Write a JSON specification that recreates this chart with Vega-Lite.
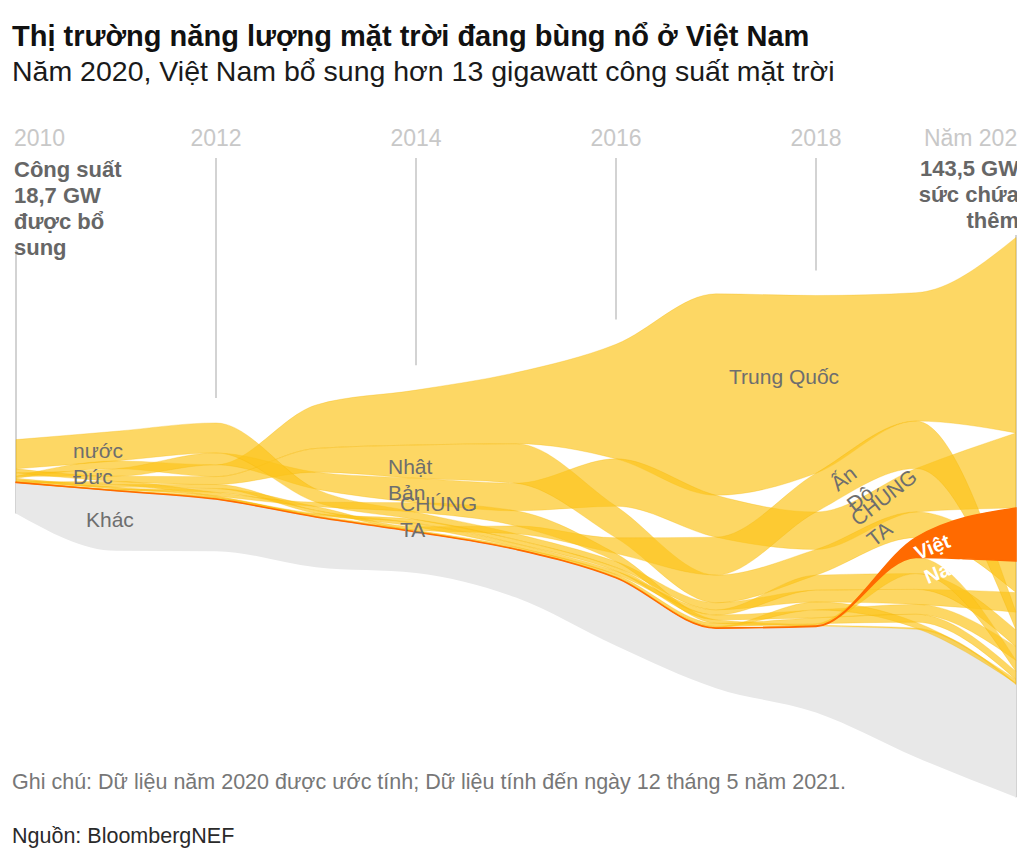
{
  "$schema": "https://vega.github.io/schema/vega-lite/v6.json",
  "width": 1000,
  "height": 765,
  "autosize": {"type": "none"},
  "padding": {"left": 16, "right": 1, "top": 100, "bottom": 0},
  "background": "white",
  "config": {"view": {"stroke": null}, "font": "Liberation Sans"},
  "title": {
    "text": "Thị trường năng lượng mặt trời đang bùng nổ ở Việt Nam",
    "subtitle": "Năm 2020, Việt Nam bổ sung hơn 13 gigawatt công suất mặt trời",
    "anchor": "start",
    "frame": "group",
    "dx": -4,
    "font": "'Liberation Sans', sans-serif",
    "fontSize": 29,
    "fontWeight": "bold",
    "color": "#111111",
    "subtitleFont": "'Liberation Sans', sans-serif",
    "subtitleFontSize": 28.5,
    "subtitleColor": "#1a1a1a",
    "subtitlePadding": 6,
    "offset": 14
  },
  "datasets": {
    "solar": [
      {"year": 2010, "country": "Trung Quốc", "value": 0.5},
      {"year": 2011, "country": "Trung Quốc", "value": 2.0},
      {"year": 2012, "country": "Trung Quốc", "value": 3.0},
      {"year": 2013, "country": "Trung Quốc", "value": 11.0},
      {"year": 2014, "country": "Trung Quốc", "value": 13.9},
      {"year": 2015, "country": "Trung Quốc", "value": 18.0},
      {"year": 2016, "country": "Trung Quốc", "value": 29.0},
      {"year": 2017, "country": "Trung Quốc", "value": 51.0},
      {"year": 2018, "country": "Trung Quốc", "value": 45.0},
      {"year": 2019, "country": "Trung Quốc", "value": 32.5},
      {"year": 2020, "country": "Trung Quốc", "value": 49.5},
      {"year": 2010, "country": "Mỹ", "value": 0.9},
      {"year": 2011, "country": "Mỹ", "value": 1.9},
      {"year": 2012, "country": "Mỹ", "value": 3.0},
      {"year": 2013, "country": "Mỹ", "value": 4.3},
      {"year": 2014, "country": "Mỹ", "value": 6.2},
      {"year": 2015, "country": "Mỹ", "value": 7.0},
      {"year": 2016, "country": "Mỹ", "value": 12.0},
      {"year": 2017, "country": "Mỹ", "value": 10.6},
      {"year": 2018, "country": "Mỹ", "value": 9.5},
      {"year": 2019, "country": "Mỹ", "value": 11.0},
      {"year": 2020, "country": "Mỹ", "value": 19.0},
      {"year": 2010, "country": "Nhật Bản", "value": 1.0},
      {"year": 2011, "country": "Nhật Bản", "value": 1.3},
      {"year": 2012, "country": "Nhật Bản", "value": 2.0},
      {"year": 2013, "country": "Nhật Bản", "value": 6.0},
      {"year": 2014, "country": "Nhật Bản", "value": 8.4},
      {"year": 2015, "country": "Nhật Bản", "value": 10.0},
      {"year": 2016, "country": "Nhật Bản", "value": 8.0},
      {"year": 2017, "country": "Nhật Bản", "value": 7.0},
      {"year": 2018, "country": "Nhật Bản", "value": 6.5},
      {"year": 2019, "country": "Nhật Bản", "value": 6.5},
      {"year": 2020, "country": "Nhật Bản", "value": 8.0},
      {"year": 2010, "country": "Đức", "value": 7.4},
      {"year": 2011, "country": "Đức", "value": 7.5},
      {"year": 2012, "country": "Đức", "value": 7.6},
      {"year": 2013, "country": "Đức", "value": 3.3},
      {"year": 2014, "country": "Đức", "value": 1.9},
      {"year": 2015, "country": "Đức", "value": 1.5},
      {"year": 2016, "country": "Đức", "value": 1.5},
      {"year": 2017, "country": "Đức", "value": 1.8},
      {"year": 2018, "country": "Đức", "value": 3.0},
      {"year": 2019, "country": "Đức", "value": 3.8},
      {"year": 2020, "country": "Đức", "value": 5.0},
      {"year": 2010, "country": "Ấn Độ", "value": 0.03},
      {"year": 2011, "country": "Ấn Độ", "value": 0.3},
      {"year": 2012, "country": "Ấn Độ", "value": 1.0},
      {"year": 2013, "country": "Ấn Độ", "value": 1.0},
      {"year": 2014, "country": "Ấn Độ", "value": 0.9},
      {"year": 2015, "country": "Ấn Độ", "value": 2.0},
      {"year": 2016, "country": "Ấn Độ", "value": 4.0},
      {"year": 2017, "country": "Ấn Độ", "value": 9.6},
      {"year": 2018, "country": "Ấn Độ", "value": 9.8},
      {"year": 2019, "country": "Ấn Độ", "value": 12.0},
      {"year": 2020, "country": "Ấn Độ", "value": 4.5},
      {"year": 2010, "country": "Việt Nam", "value": 0.005},
      {"year": 2011, "country": "Việt Nam", "value": 0.005},
      {"year": 2012, "country": "Việt Nam", "value": 0.005},
      {"year": 2013, "country": "Việt Nam", "value": 0.005},
      {"year": 2014, "country": "Việt Nam", "value": 0.005},
      {"year": 2015, "country": "Việt Nam", "value": 0.005},
      {"year": 2016, "country": "Việt Nam", "value": 0.005},
      {"year": 2017, "country": "Việt Nam", "value": 0.03},
      {"year": 2018, "country": "Việt Nam", "value": 0.1},
      {"year": 2019, "country": "Việt Nam", "value": 5.0},
      {"year": 2020, "country": "Việt Nam", "value": 13.4},
      {"year": 2010, "country": "Úc", "value": 0.4},
      {"year": 2011, "country": "Úc", "value": 0.7},
      {"year": 2012, "country": "Úc", "value": 1.0},
      {"year": 2013, "country": "Úc", "value": 0.8},
      {"year": 2014, "country": "Úc", "value": 0.9},
      {"year": 2015, "country": "Úc", "value": 0.9},
      {"year": 2016, "country": "Úc", "value": 0.9},
      {"year": 2017, "country": "Úc", "value": 1.3},
      {"year": 2018, "country": "Úc", "value": 3.8},
      {"year": 2019, "country": "Úc", "value": 4.0},
      {"year": 2020, "country": "Úc", "value": 4.2},
      {"year": 2010, "country": "Anh", "value": 0.05},
      {"year": 2011, "country": "Anh", "value": 0.8},
      {"year": 2012, "country": "Anh", "value": 0.9},
      {"year": 2013, "country": "Anh", "value": 1.1},
      {"year": 2014, "country": "Anh", "value": 2.4},
      {"year": 2015, "country": "Anh", "value": 3.8},
      {"year": 2016, "country": "Anh", "value": 2.0},
      {"year": 2017, "country": "Anh", "value": 0.9},
      {"year": 2018, "country": "Anh", "value": 0.3},
      {"year": 2019, "country": "Anh", "value": 0.3},
      {"year": 2020, "country": "Anh", "value": 0.3},
      {"year": 2010, "country": "Hàn Quốc", "value": 0.13},
      {"year": 2011, "country": "Hàn Quốc", "value": 0.08},
      {"year": 2012, "country": "Hàn Quốc", "value": 0.25},
      {"year": 2013, "country": "Hàn Quốc", "value": 0.4},
      {"year": 2014, "country": "Hàn Quốc", "value": 0.9},
      {"year": 2015, "country": "Hàn Quốc", "value": 1.0},
      {"year": 2016, "country": "Hàn Quốc", "value": 0.9},
      {"year": 2017, "country": "Hàn Quốc", "value": 1.2},
      {"year": 2018, "country": "Hàn Quốc", "value": 2.0},
      {"year": 2019, "country": "Hàn Quốc", "value": 2.5},
      {"year": 2020, "country": "Hàn Quốc", "value": 3.5},
      {"year": 2010, "country": "Mexico", "value": 0.01},
      {"year": 2011, "country": "Mexico", "value": 0.02},
      {"year": 2012, "country": "Mexico", "value": 0.03},
      {"year": 2013, "country": "Mexico", "value": 0.05},
      {"year": 2014, "country": "Mexico", "value": 0.07},
      {"year": 2015, "country": "Mexico", "value": 0.1},
      {"year": 2016, "country": "Mexico", "value": 0.15},
      {"year": 2017, "country": "Mexico", "value": 0.3},
      {"year": 2018, "country": "Mexico", "value": 2.0},
      {"year": 2019, "country": "Mexico", "value": 1.5},
      {"year": 2020, "country": "Mexico", "value": 1.0},
      {"year": 2010, "country": "Tây Ban Nha", "value": 0.39},
      {"year": 2011, "country": "Tây Ban Nha", "value": 0.4},
      {"year": 2012, "country": "Tây Ban Nha", "value": 0.3},
      {"year": 2013, "country": "Tây Ban Nha", "value": 0.1},
      {"year": 2014, "country": "Tây Ban Nha", "value": 0.02},
      {"year": 2015, "country": "Tây Ban Nha", "value": 0.05},
      {"year": 2016, "country": "Tây Ban Nha", "value": 0.05},
      {"year": 2017, "country": "Tây Ban Nha", "value": 0.1},
      {"year": 2018, "country": "Tây Ban Nha", "value": 0.3},
      {"year": 2019, "country": "Tây Ban Nha", "value": 4.1},
      {"year": 2020, "country": "Tây Ban Nha", "value": 2.8},
      {"year": 2010, "country": "Hà Lan", "value": 0.02},
      {"year": 2011, "country": "Hà Lan", "value": 0.05},
      {"year": 2012, "country": "Hà Lan", "value": 0.2},
      {"year": 2013, "country": "Hà Lan", "value": 0.3},
      {"year": 2014, "country": "Hà Lan", "value": 0.3},
      {"year": 2015, "country": "Hà Lan", "value": 0.4},
      {"year": 2016, "country": "Hà Lan", "value": 0.6},
      {"year": 2017, "country": "Hà Lan", "value": 0.8},
      {"year": 2018, "country": "Hà Lan", "value": 1.5},
      {"year": 2019, "country": "Hà Lan", "value": 2.0},
      {"year": 2020, "country": "Hà Lan", "value": 2.0},
      {"year": 2010, "country": "Khác", "value": 7.85},
      {"year": 2011, "country": "Khác", "value": 15.2},
      {"year": 2012, "country": "Khác", "value": 13.2},
      {"year": 2013, "country": "Khác", "value": 12.7},
      {"year": 2014, "country": "Khác", "value": 10.4},
      {"year": 2015, "country": "Khác", "value": 12.2},
      {"year": 2016, "country": "Khác", "value": 17.2},
      {"year": 2017, "country": "Khác", "value": 15.2},
      {"year": 2018, "country": "Khác", "value": 21.8},
      {"year": 2019, "country": "Khác", "value": 32.4},
      {"year": 2020, "country": "Khác", "value": 28.5}
    ]
  },
  "layer": [
    {
      "data": {"name": "solar"},
      "transform": [
        {"filter": "datum.year % 2 === 0"},
        {"calculate": "datum.country === 'Khác' ? 0 : datum.value", "as": "cv"},
        {"calculate": "datum.country === 'Khác' ? datum.value : 0", "as": "kv"},
        {"aggregate": [{"op": "sum", "field": "cv", "as": "C"}, {"op": "sum", "field": "kv", "as": "K"}], "groupby": ["year"]},
        {"calculate": "datum.year === 2010 ? 53.4 : (datum.year === 2020 ? 57.2 : 76.7)", "as": "ytop"},
        {"calculate": "(datum.year === 2010 || datum.year === 2020) ? -(datum.C / 2 + datum.K) : datum.C / 2 + 6.3", "as": "yend"}
      ],
      "mark": {"type": "rule", "color": "#d3d3d3", "strokeWidth": 2},
      "encoding": {
        "x": {"field": "year", "type": "quantitative", "scale": {"domain": [2010, 2020], "nice": false, "zero": false}, "axis": null},
        "y": {"field": "ytop", "type": "quantitative", "scale": {"domain": [-102.278, 91.392], "nice": false, "zero": false}, "axis": null},
        "y2": {"field": "yend"}
      }
    },
    {
      "data": {"name": "solar"},
      "transform": [
        {"calculate": "datum.country === 'Khác' ? 1 : 0", "as": "isOther"},
        {"calculate": "datum.country === 'Khác' ? datum.value : 0", "as": "kv"},
        {"joinaggregate": [{"op": "sum", "field": "value", "as": "T"}, {"op": "sum", "field": "kv", "as": "K"}], "groupby": ["year"]},
        {"stack": "value", "groupby": ["year"], "sort": [{"field": "isOther", "order": "descending"}, {"field": "value", "order": "ascending"}], "offset": "zero", "as": ["s0", "s1"]},
        {"calculate": "datum.s0 - (datum.T + datum.K) / 2", "as": "y0"},
        {"calculate": "datum.s1 - (datum.T + datum.K) / 2", "as": "y1"}
      ],
      "encoding": {
        "x": {"field": "year", "type": "quantitative", "scale": {"domain": [2010, 2020], "nice": false, "zero": false}, "axis": null},
        "y": {"field": "y0", "type": "quantitative", "scale": {"domain": [-102.278, 91.392], "nice": false, "zero": false}, "axis": null},
        "y2": {"field": "y1"}
      },
      "layer": [
        {
          "transform": [{"filter": "datum.country === 'Khác'"}],
          "mark": {"type": "area", "interpolate": "monotone", "color": "#e8e8e8", "fillOpacity": 1}
        },
        {
          "transform": [{"filter": "datum.country !== 'Khác' && datum.country !== 'Việt Nam'"}],
          "mark": {"type": "area", "interpolate": "monotone", "color": "#fcc41a", "fillOpacity": 0.68, "stroke": "#f2b400", "strokeWidth": 0.6, "strokeOpacity": 0.45},
          "encoding": {"detail": {"field": "country"}}
        },
        {
          "transform": [{"filter": "datum.country === 'Việt Nam'"}],
          "mark": {"type": "area", "interpolate": "monotone", "color": "#ff6a00", "fillOpacity": 1, "stroke": "#ff6a00", "strokeWidth": 1.5}
        }
      ]
    },
    {
      "data": {"values": [
        {"t": "nước\nĐức", "year": 2010.57, "v": 0.8},
        {"t": "Khác", "year": 2010.70, "v": -16.7},
        {"t": "Nhật\nBản", "year": 2013.72, "v": -3.3},
        {"t": "CHÚNG\nTA", "year": 2013.84, "v": -12.7},
        {"t": "Trung Quốc", "year": 2017.13, "v": 19.5}
      ]},
      "mark": {"type": "text", "align": "left", "baseline": "alphabetic", "fontSize": 21, "lineHeight": 26, "lineBreak": "\n", "color": "#6e6e6e"},
      "encoding": {
        "x": {"field": "year", "type": "quantitative"},
        "y": {"field": "v", "type": "quantitative"},
        "text": {"field": "t"}
      }
    },
    {
      "data": {"values": [
        {"t": "Ấn\nĐộ", "year": 2018.22, "v": -7.85},
        {"t": "CHÚNG\nTA", "year": 2018.42, "v": -16.7}
      ]},
      "mark": {"type": "text", "align": "left", "baseline": "alphabetic", "fontSize": 21, "lineHeight": 26, "lineBreak": "\n", "angle": 322, "color": "#6e6e6e"},
      "encoding": {
        "x": {"field": "year", "type": "quantitative"},
        "y": {"field": "v", "type": "quantitative"},
        "text": {"field": "t"}
      }
    },
    {
      "data": {"values": [{"t": "Việt\nNam", "year": 2019.02, "v": -25.1}]},
      "mark": {"type": "text", "align": "left", "baseline": "alphabetic", "fontSize": 20, "fontWeight": "bold", "lineHeight": 26, "lineBreak": "\n", "angle": 338, "color": "#ffffff"},
      "encoding": {
        "x": {"field": "year", "type": "quantitative"},
        "y": {"field": "v", "type": "quantitative"},
        "text": {"field": "t"}
      }
    },
    {
      "data": {"values": [{"t": "2010", "year": 2010, "v": 79.75}]},
      "mark": {"type": "text", "align": "left", "dx": -2, "baseline": "alphabetic", "fontSize": 23, "color": "#c8c8c8"},
      "encoding": {"x": {"field": "year", "type": "quantitative"}, "y": {"field": "v", "type": "quantitative"}, "text": {"field": "t"}}
    },
    {
      "data": {"values": [
        {"t": "2012", "year": 2012, "v": 79.75},
        {"t": "2014", "year": 2014, "v": 79.75},
        {"t": "2016", "year": 2016, "v": 79.75},
        {"t": "2018", "year": 2018, "v": 79.75}
      ]},
      "mark": {"type": "text", "align": "center", "baseline": "alphabetic", "fontSize": 23, "color": "#c8c8c8"},
      "encoding": {"x": {"field": "year", "type": "quantitative"}, "y": {"field": "v", "type": "quantitative"}, "text": {"field": "t"}}
    },
    {
      "data": {"values": [{"t": "Năm 2020", "year": 2020, "v": 79.75}]},
      "mark": {"type": "text", "align": "right", "dx": 14, "baseline": "alphabetic", "fontSize": 23, "color": "#c8c8c8"},
      "encoding": {"x": {"field": "year", "type": "quantitative"}, "y": {"field": "v", "type": "quantitative"}, "text": {"field": "t"}}
    },
    {
      "data": {"values": [{"t": "Công suất\n18,7 GW\nđược bổ\nsung", "year": 2010, "v": 71.9}]},
      "mark": {"type": "text", "align": "left", "dx": -2, "baseline": "alphabetic", "fontSize": 22, "fontWeight": "bold", "lineHeight": 26, "lineBreak": "\n", "color": "#666666"},
      "encoding": {"x": {"field": "year", "type": "quantitative"}, "y": {"field": "v", "type": "quantitative"}, "text": {"field": "t"}}
    },
    {
      "data": {"values": [{"t": "143,5 GW\nsức chứa\nthêm", "year": 2020, "v": 72.15}]},
      "mark": {"type": "text", "align": "right", "dx": 3, "baseline": "alphabetic", "fontSize": 22, "fontWeight": "bold", "lineHeight": 26, "lineBreak": "\n", "color": "#666666"},
      "encoding": {"x": {"field": "year", "type": "quantitative"}, "y": {"field": "v", "type": "quantitative"}, "text": {"field": "t"}}
    },
    {
      "data": {"values": [{"t": "Ghi chú: Dữ liệu năm 2020 được ước tính; Dữ liệu tính đến ngày 12 tháng 5 năm 2021.", "year": 2009.96, "v": -83.0}]},
      "mark": {"type": "text", "align": "left", "baseline": "alphabetic", "fontSize": 21.5, "color": "#777777"},
      "encoding": {"x": {"field": "year", "type": "quantitative"}, "y": {"field": "v", "type": "quantitative"}, "text": {"field": "t"}}
    },
    {
      "data": {"values": [{"t": "Nguồn: BloombergNEF", "year": 2009.96, "v": -96.7}]},
      "mark": {"type": "text", "align": "left", "baseline": "alphabetic", "fontSize": 21.5, "color": "#2a2a2a"},
      "encoding": {"x": {"field": "year", "type": "quantitative"}, "y": {"field": "v", "type": "quantitative"}, "text": {"field": "t"}}
    }
  ]
}
